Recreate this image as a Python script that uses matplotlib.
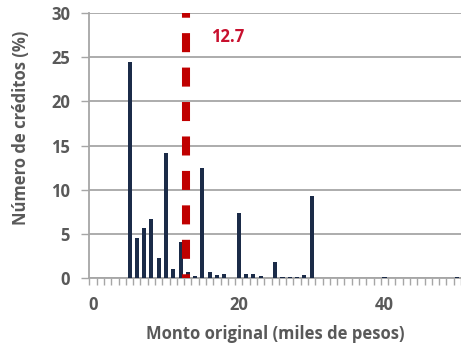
import matplotlib
matplotlib.use("Agg")
import matplotlib.pyplot as plt
from matplotlib.ticker import MultipleLocator, FixedLocator

plt.rcParams['font.family'] = ['Open Sans', 'DejaVu Sans']
plt.rcParams['lines.scale_dashes'] = False

# Loan amount (thousands of pesos) and share of loans (%)
amounts = list(range(51))
shares = [0, 0, 0, 0, 0,
          24.5, 4.5, 5.7, 6.7, 2.2,
          14.2, 1.0, 4.0, 0.6, 0.25,
          12.4, 0.7, 0.3, 0.4, 0,
          7.4, 0.4, 0.45, 0.25, 0,
          1.8, 0.03, 0.03, 0.08, 0.3,
          9.3, 0, 0, 0, 0,
          0, 0, 0, 0, 0,
          0.05, 0, 0, 0, 0,
          0, 0, 0, 0, 0,
          0.1]
mean_amount = 12.7
x_tick_labels = ["0", "20", "40"]
x_tick_pos = [0, 20, 40]

grey = "#A6A6A6"
text_grey = "#595959"
bar_color = "#1B2B48"
red = "#C00000"
label_red = "#C8102E"

fig = plt.figure(figsize=(4.61, 3.52), dpi=100)
ax = fig.add_axes([0.194, 0.211, 0.806, 0.751])

ax.bar(amounts, shares, width=0.55, color=bar_color, zorder=3)

ax.axvline(mean_amount, color=red, linewidth=5.8,
           linestyle=(11.0, (13.7, 11.1)), dash_capstyle='butt', zorder=4)
ax.annotate(f"{mean_amount}", xy=(mean_amount, 27.3), xytext=(42, 0),
            textcoords='offset pixels', ha='center', va='center',
            color=label_red, fontsize=12, fontweight='bold')

ax.set_xlim(-0.5, 50.5)
ax.set_ylim(0, 30)

ax.yaxis.set_major_locator(MultipleLocator(5))
ax.grid(axis='y', color=grey, linewidth=1.3, zorder=0)
ax.set_axisbelow(True)

ax.set_xticks(x_tick_pos)
ax.set_xticklabels(x_tick_labels)
ax.tick_params(axis='x', which='major', length=0, pad=13)
ax.xaxis.set_minor_locator(FixedLocator([i - 0.5 for i in range(52)]))
ax.tick_params(axis='x', which='minor', length=5, width=1.0, color=grey, direction='out')
ax.tick_params(axis='y', which='major', length=6, width=1.0, color=grey, pad=8)

for lab in ax.get_xticklabels() + ax.get_yticklabels():
    lab.set_fontweight('bold')
    lab.set_fontsize(12)
    lab.set_color(text_grey)

for side in ['top', 'right']:
    ax.spines[side].set_visible(False)
for side in ['left', 'bottom']:
    ax.spines[side].set_color(grey)
    ax.spines[side].set_linewidth(1.3)

ax.set_xlabel("Monto original (miles de pesos)", fontsize=12, fontweight='bold',
              color=text_grey, labelpad=8)
ax.set_ylabel("Número de créditos (%)", fontsize=12, fontweight='bold',
              color=text_grey, va='center')
ax.yaxis.set_label_coords(-0.184, 0.566)

fig.savefig("out.png", dpi=100)
